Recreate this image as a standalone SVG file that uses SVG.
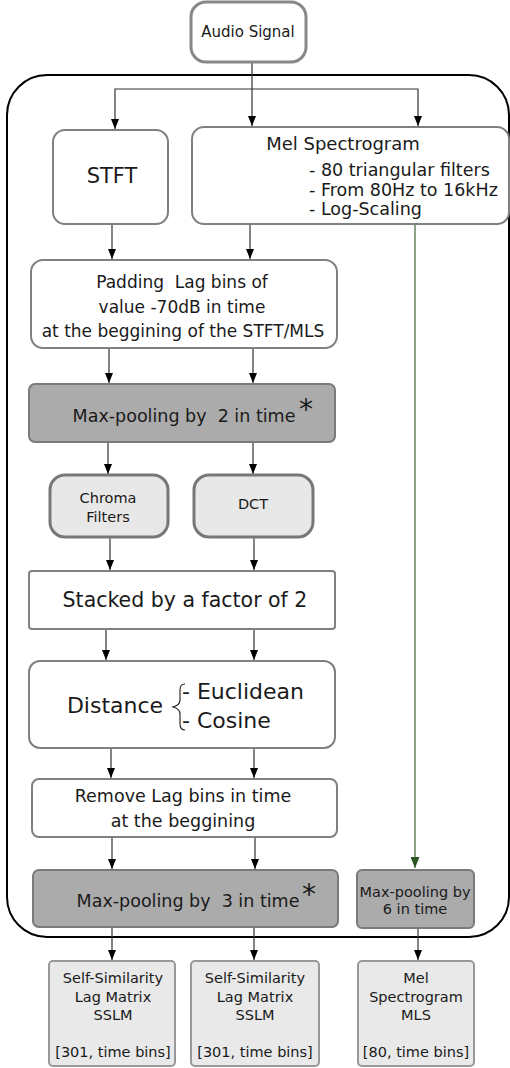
<svg xmlns="http://www.w3.org/2000/svg" width="510" height="1068" viewBox="0 0 510 1068">
<defs>
<style>
text{font-family:"DejaVu Sans","Liberation Sans",sans-serif;fill:#1a1a1a;text-anchor:middle}
.n{fill:#fff;stroke:#808080;stroke-width:2}
.gray{fill:#ababab;stroke:#7a7a7a;stroke-width:2}
.light{fill:#e8e8e8;stroke:#777;stroke-width:3}
.out{fill:#e9e9e9;stroke:#999;stroke-width:2}
.c{fill:none;stroke:#333;stroke-width:1.2}
.g{fill:none;stroke:#5e7d55;stroke-width:1.4}
</style>
<marker id="a" markerUnits="userSpaceOnUse" markerWidth="10" markerHeight="8" refX="10" refY="4" orient="auto"><path d="M0,0 L10,4 L0,8 z" fill="#000"/></marker>
<marker id="ag" markerUnits="userSpaceOnUse" markerWidth="11" markerHeight="9" refX="11" refY="4.5" orient="auto"><path d="M0,0 L11,4.5 L0,9 z" fill="#2a5622"/></marker>
</defs>
<rect x="7" y="75" width="502" height="862" rx="40" fill="none" stroke="#000" stroke-width="2"/>
<g id="connectors">
<path class="c" d="M252,62 V126" marker-end="url(#a)"/>
<path class="c" d="M252,89 H115 V129" marker-end="url(#a)"/>
<path class="c" d="M252,89 H418 V126" marker-end="url(#a)"/>
<path class="c" d="M112,224 V259" marker-end="url(#a)"/>
<path class="c" d="M250,224 V259" marker-end="url(#a)"/>
<path class="g" d="M415,224 V868" marker-end="url(#ag)"/>
<path class="c" d="M109,348 V383" marker-end="url(#a)"/>
<path class="c" d="M253,348 V383" marker-end="url(#a)"/>
<path class="c" d="M108,442 V474" marker-end="url(#a)"/>
<path class="c" d="M253,442 V474" marker-end="url(#a)"/>
<path class="c" d="M110,537 V570" marker-end="url(#a)"/>
<path class="c" d="M254,537 V570" marker-end="url(#a)"/>
<path class="c" d="M106,629 V660" marker-end="url(#a)"/>
<path class="c" d="M254,629 V660" marker-end="url(#a)"/>
<path class="c" d="M111,748 V778" marker-end="url(#a)"/>
<path class="c" d="M254,748 V778" marker-end="url(#a)"/>
<path class="c" d="M112,837 V869" marker-end="url(#a)"/>
<path class="c" d="M255,837 V869" marker-end="url(#a)"/>
<path class="c" d="M112,927 V960" marker-end="url(#a)"/>
<path class="c" d="M254,927 V960" marker-end="url(#a)"/>
<path class="c" d="M418,928 V960" marker-end="url(#a)"/>
</g>
<g id="audio"><rect x="191" y="2" width="115" height="60" rx="15" fill="#fff" stroke="#888" stroke-width="3"/><text x="248" y="37" font-size="15">Audio Signal</text></g>
<g id="stft"><rect class="n" x="53" y="130" width="115" height="94" rx="12"/><text x="112" y="183" font-size="21">STFT</text></g>
<g id="mel"><rect class="n" x="192" y="127" width="317" height="97" rx="12"/><text x="343" y="150" font-size="18">Mel Spectrogram</text>
<text x="309" y="176" font-size="17.5" style="text-anchor:start">- 80 triangular filters</text>
<text x="309" y="196" font-size="17.5" style="text-anchor:start">- From 80Hz to 16kHz</text>
<text x="309" y="215" font-size="17.5" style="text-anchor:start">- Log-Scaling</text></g>
<g id="padding"><rect class="n" x="31" y="260" width="306" height="88" rx="12"/>
<text x="182" y="288" font-size="17" xml:space="preserve">Padding  Lag bins of</text>
<text x="182" y="313" font-size="17">value -70dB in time</text>
<text x="183" y="337" font-size="17">at the beggining of the STFT/MLS</text></g>
<g id="maxpool2"><rect class="gray" x="29" y="384" width="306" height="58" rx="6"/>
<text x="184" y="422" font-size="17.5" xml:space="preserve">Max-pooling by  2 in time</text>
<text x="306" y="419" font-size="28">*</text></g>
<g id="chroma"><rect class="light" x="50" y="475" width="118" height="62" rx="15"/><text x="108" y="503" font-size="14.5">Chroma</text><text x="108" y="522" font-size="14.5">Filters</text></g>
<g id="dct"><rect class="light" x="194" y="475" width="119" height="62" rx="15"/><text x="253" y="509" font-size="14.5">DCT</text></g>
<g id="stacked"><rect class="n" x="29" y="571" width="306" height="58" rx="3"/><text x="185" y="607" font-size="20.5">Stacked by a factor of 2</text></g>
<g id="distance"><rect class="n" x="29" y="661" width="306" height="87" rx="11"/>
<text x="115" y="713" font-size="22">Distance</text>
<path d="M185,684 Q180,684 180,690 L180,700 Q180,705 173,707 Q180,709 180,714 L180,724 Q180,730 185,730" fill="none" stroke="#1a1a1a" stroke-width="1.1"/>
<text x="182" y="699" font-size="22" style="text-anchor:start">- Euclidean</text>
<text x="182" y="728" font-size="22" style="text-anchor:start">- Cosine</text></g>
<g id="remove"><rect class="n" x="32" y="779" width="305" height="58" rx="7"/>
<text x="183" y="802" font-size="17.5">Remove Lag bins in time</text>
<text x="183" y="827" font-size="17.5">at the beggining</text></g>
<g id="maxpool3"><rect class="gray" x="33" y="870" width="305" height="57" rx="6"/>
<text x="188" y="907" font-size="17.5" xml:space="preserve">Max-pooling by  3 in time</text>
<text x="309" y="904" font-size="28">*</text></g>
<g id="maxpool6"><rect class="gray" x="357" y="870" width="117" height="58" rx="5" stroke-width="1.5"/>
<text x="415" y="897" font-size="14.5">Max-pooling by</text><text x="415" y="914" font-size="14.5">6 in time</text></g>
<g id="out1"><rect class="out" x="49" y="961" width="126" height="105" rx="4"/>
<text x="113" y="983" font-size="14.5">Self-Similarity</text><text x="113" y="1002" font-size="14.5">Lag Matrix</text><text x="113" y="1020" font-size="14.5">SSLM</text><text x="113" y="1057" font-size="14.5">[301, time bins]</text></g>
<g id="out2"><rect class="out" x="191" y="961" width="128" height="105" rx="4"/>
<text x="255" y="983" font-size="14.5">Self-Similarity</text><text x="255" y="1002" font-size="14.5">Lag Matrix</text><text x="255" y="1020" font-size="14.5">SSLM</text><text x="255" y="1057" font-size="14.5">[301, time bins]</text></g>
<g id="out3"><rect class="out" x="358" y="961" width="116" height="105" rx="4"/>
<text x="416" y="983" font-size="14.5">Mel</text><text x="416" y="1002" font-size="14.5">Spectrogram</text><text x="416" y="1020" font-size="14.5">MLS</text><text x="416" y="1057" font-size="14.5">[80, time bins]</text></g>
</svg>
